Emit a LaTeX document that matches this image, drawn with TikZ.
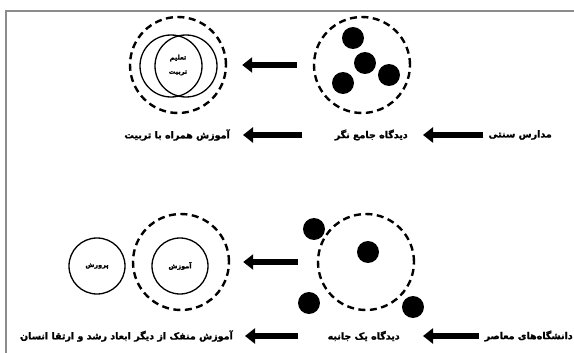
\documentclass[tikz,border=0pt]{standalone}
\usepackage{fontspec}
\usetikzlibrary{arrows.meta}
\newfontfamily\farsi[Script=Arabic, BoldFont={DejaVu Sans Bold}, BoldFeatures={FakeBold=1.5}]{DejaVu Sans}
\TeXXeTstate=1
\definecolor{frameGray}{HTML}{8C8C8C}

\begin{document}
\begin{tikzpicture}[x=1pt, y=-1pt,
  label/.style={font=\farsi\bfseries\fontsize{9.5}{10}\selectfont, inner sep=0pt, anchor=east},
  inword/.style={font=\farsi\bfseries\fontsize{6.5}{7}\selectfont, inner sep=0pt},
  dashcirc/.style={circle, draw, line width=2.4pt, dash pattern=on 7pt off 4.5pt, minimum size=96pt, inner sep=0pt},
  ring/.style={circle, draw, line width=1.3pt, minimum size=#1, inner sep=0pt},
  dot/.style={circle, fill, minimum size=22pt, inner sep=0pt},
  bigarrow/.style={line width=6pt, -{Triangle[length=10pt, width=15pt]}},
]
  \useasboundingbox (0,0) rectangle (574,353);
  \draw[frameGray, line width=2pt] (6,353) -- (6,11.5) -- (574,11.5);

  % top row
  \node[dashcirc] (topR) at (362,65) {};
  \node[dot] (d1) at (353,38) {};
  \node[dot] (d2) at (365,63) {};
  \node[dot] (d3) at (389,75) {};
  \node[dot] (d4) at (343,83) {};
  \node[dashcirc] (topL) at (178,65) {};
  \node[ring=62pt] (vennA) at (171,66) {};
  \node[ring=62pt] (vennB) at (186,66) {};
  \node[inword] (taalim) at (178,58) {\beginR تعلیم\endR};
  \node[inword] (tarbiat) at (178,73) {\beginR تربیت\endR};
  \draw[bigarrow, shorten <=16pt, shorten >=15pt] (topR) -- (topL);

  \node[label] (trad) at (552,135) {\beginR مدارس سنتی\endR};
  \node[label] (holist) at (408,135) {\beginR دیدگاه جامع نگر\endR};
  \node[label] (withUp) at (230,135) {\beginR آموزش همراه با تربیت\endR};
  \draw[bigarrow, shorten <=5pt, shorten >=15pt] (trad) -- (holist);
  \draw[bigarrow, shorten <=33pt, shorten >=13pt] (holist) -- (withUp);

  % bottom row
  \node[dashcirc] (botR) at (366,262) {};
  \node[dot] (e1) at (368,252) {};
  \node[dot] (e2) at (314,229) {};
  \node[dot] (e3) at (309,303) {};
  \node[dot] (e4) at (413,307) {};
  \node[dashcirc] (botL) at (181,262) {};
  \node[ring=56pt, inword] (amoozesh) at (180,266) {\beginR آموزش\endR};
  \node[ring=56pt, inword] (parvaresh) at (97,266) {\beginR پرورش\endR};
  \draw[bigarrow, shorten <=19pt, shorten >=13pt] (botR) -- (botL);

  \node[label] (modern) at (573,336) {\beginR دانشگاه‌های معاصر\endR};
  \node[label] (oneSide) at (400,336) {\beginR دیدگاه یک جانبه\endR};
  \node[label] (apart) at (233,336) {\beginR آموزش منفک از دیگر ابعاد رشد و ارتقا انسان\endR};
  \draw[bigarrow, shorten <=5pt, shorten >=23pt] (modern) -- (oneSide);
  \draw[bigarrow, shorten <=29pt, shorten >=12pt] (oneSide) -- (apart);
\end{tikzpicture}
\end{document}
